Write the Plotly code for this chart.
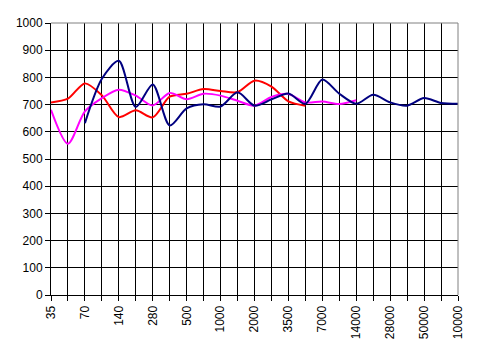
import plotly.graph_objects as go

categories = ["35", "50", "70", "100", "140", "200", "280", "400", "500", "700",
              "1000", "1400", "2000", "2800", "3500", "5000", "7000", "10000",
              "14000", "20000", "28000", "40000", "50000", "70000", "100000"]
tick_labels = ["35", "", "70", "", "140", "", "280", "", "500", "", "1000", "",
               "2000", "", "3500", "", "7000", "", "14000", "", "28000", "",
               "50000", "", "10000"]

red_values = [708, 722, 778, 734, 654, 679, 653, 729, 740, 757, 750, 746, 788,
              766, 712, 696]
magenta_values = [681, 556, 675, 724, 755, 733, 697, 743, 720, 740, 733, 714,
                  696, 728, 739, 708, 711, 702, 716]
navy_values = [632, 795, 861, 691, 774, 623, 686, 701, 693, 745, 696, 719, 741,
               703, 792, 740, 703, 736, 708, 696, 724, 706, 703]

fig = go.Figure()
fig.add_trace(go.Scatter(x=categories[:len(red_values)], y=red_values, mode="lines",
                         line=dict(color="#FF0000", width=2, shape="spline", smoothing=0.8)))
fig.add_trace(go.Scatter(x=categories[:len(magenta_values)], y=magenta_values, mode="lines",
                         line=dict(color="#FF00FF", width=2, shape="spline", smoothing=0.8)))
fig.add_trace(go.Scatter(x=categories[2:2 + len(navy_values)], y=navy_values, mode="lines",
                         line=dict(color="#000080", width=2, shape="spline", smoothing=0.8)))

fig.update_layout(
    width=464, height=338,
    margin=dict(l=43, r=14, t=15, b=51, autoexpand=False),
    paper_bgcolor="white", plot_bgcolor="white",
    showlegend=False,
    font=dict(family="Liberation Sans, Arial", size=12, color="black"),
)
fig.update_xaxes(
    type="category", categoryorder="array", categoryarray=categories,
    range=[0, len(categories) - 1],
    tickmode="array", tickvals=categories, ticktext=tick_labels,
    tickangle=-90, ticks="outside", ticklen=5, tickcolor="black",
    showgrid=True, gridcolor="black", gridwidth=1,
    showline=True, linecolor="black", linewidth=1,
    zeroline=False, automargin=False,
)
fig.update_yaxes(
    range=[0, 1000], tickmode="linear", tick0=0, dtick=100,
    ticks="outside", ticklen=5, tickcolor="black",
    showgrid=True, gridcolor="black", gridwidth=1,
    showline=True, linecolor="black", linewidth=1,
    zeroline=False, automargin=False,
)
fig.add_shape(type="line", xref="paper", yref="paper", x0=0, x1=1, y0=1, y1=1,
              line=dict(color="#808080", width=1), layer="above")
fig.add_shape(type="line", xref="paper", yref="paper", x0=1, x1=1, y0=0, y1=1,
              line=dict(color="#808080", width=1), layer="above")

fig.write_html("out.html")
